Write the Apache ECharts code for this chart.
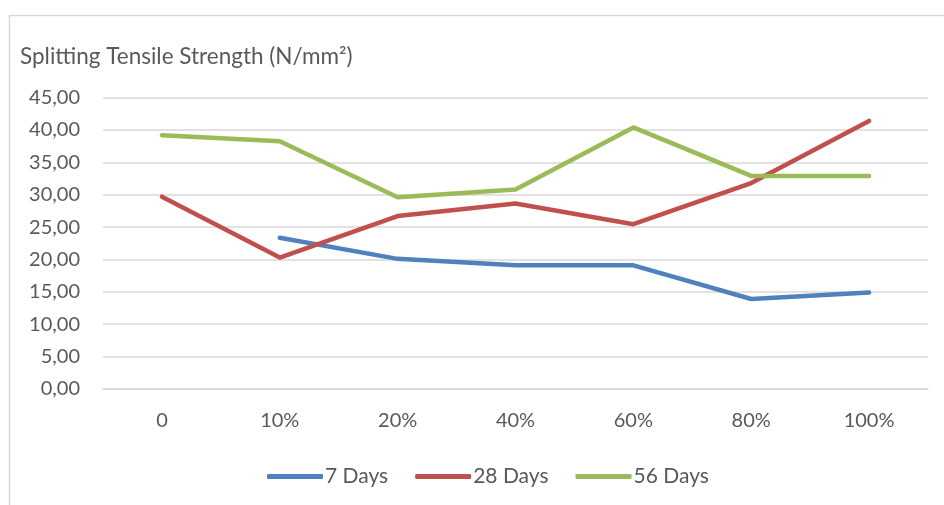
<!DOCTYPE html>
<html><head><meta charset="utf-8">
<script src="https://cdn.jsdelivr.net/npm/echarts@6/dist/echarts.min.js"></script>
<style>html,body{margin:0;padding:0;background:#fff}#c{width:944px;height:505px}</style>
</head><body><div id="c"></div>
<script>
const categories = ['0','10%','20%','40%','60%','80%','100%'];
const days7  = [null, 23.35, 20.1, 19.1, 19.1, 13.9, 14.9];
const days28 = [29.7, 20.3, 26.7, 28.65, 25.45, 31.8, 41.4];
const days56 = [39.2, 38.25, 29.6, 30.8, 40.4, 32.9, 32.9];
const seriesNames = ['7 Days','28 Days','56 Days'];
const colors = ['#4f81bd','#c0504d','#9bbb59'];
const fam = 'Lato, "Open Sans", sans-serif';
const txt = '#595959';
const chart = echarts.init(document.getElementById('c'));
const mk = (name, data, color) => ({
  name, type:'line', data, symbol:'none', connectNulls:false,
  lineStyle:{width:4.5, color, cap:'round', join:'round'}, itemStyle:{color}
});
chart.setOption({
  animation:false,
  graphic:[{type:'rect', shape:{x:9.5,y:15.5,width:1000,height:1000}, style:{fill:'none', stroke:'#d9d9d9', lineWidth:1.5}, silent:true}],
  title:{text:'Splitting Tensile Strength (N/mm²)', left:15, top:40, textStyle:{fontFamily:fam, fontSize:22.5, fontWeight:'normal', color:txt}},
  legend:{top:461, left:262, icon:'roundRect', itemWidth:56, itemHeight:5, itemGap:27,
    textStyle:{fontFamily:fam, fontSize:21, color:txt, padding:[0,0,0,-3]}, data:seriesNames},
  grid:{left:103, right:16, top:97.6, bottom:116, containLabel:false},
  xAxis:{type:'category', data:categories, boundaryGap:true,
    axisLine:{lineStyle:{color:'#d9d9d9', width:1.5}}, axisTick:{show:false},
    axisLabel:{fontFamily:fam, fontSize:20, color:txt, margin:22}},
  yAxis:{type:'value', min:0, max:45, interval:5,
    axisLine:{show:false}, axisTick:{show:false},
    splitLine:{lineStyle:{color:'#d9d9d9', width:1.5}},
    axisLabel:{fontFamily:fam, fontSize:20, color:txt, margin:23, formatter:v=>v.toFixed(2).replace('.',',')}},
  series:[mk(seriesNames[0],days7,colors[0]), mk(seriesNames[1],days28,colors[1]), mk(seriesNames[2],days56,colors[2])]
});
</script></body></html>
